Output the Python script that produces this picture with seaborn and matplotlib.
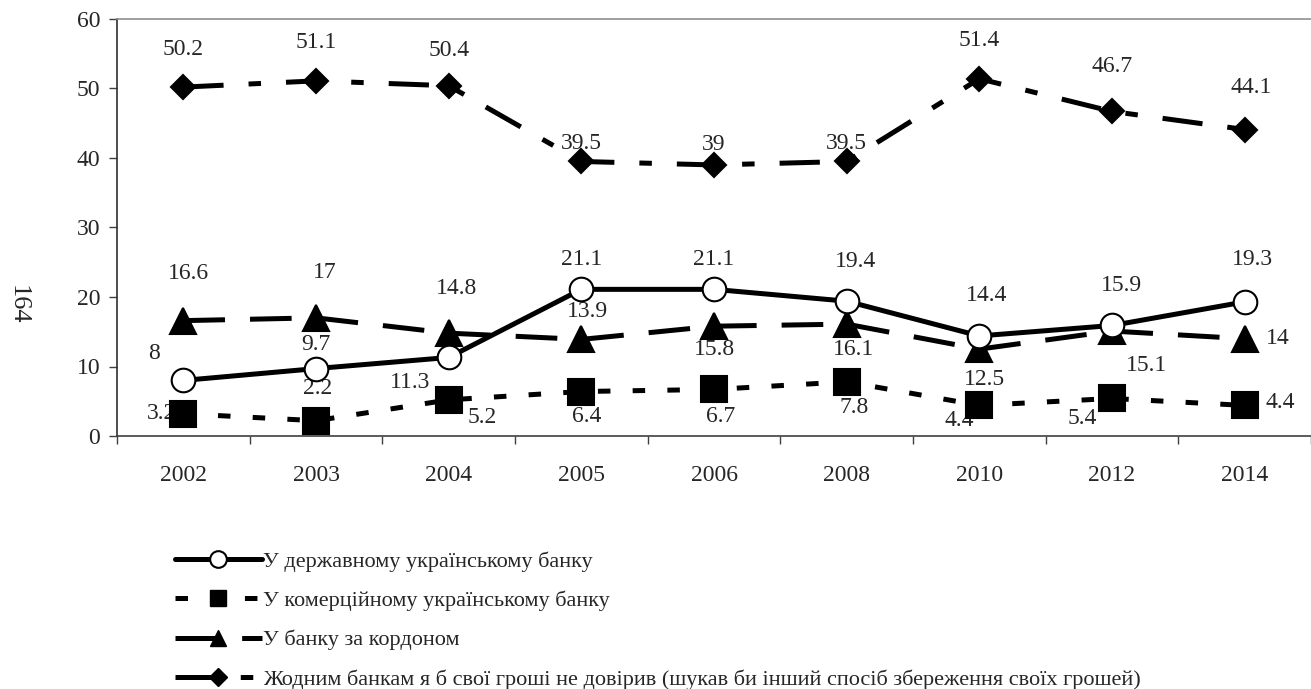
import pandas as pd
import matplotlib
matplotlib.use("Agg")
import matplotlib.pyplot as plt
from matplotlib.lines import Line2D
from matplotlib.ticker import FixedLocator
import seaborn as sns

# ---- data ----
years = ["2002", "2003", "2004", "2005", "2006", "2008", "2010", "2012", "2014"]
state_bank = [8, 9.7, 11.3, 21.1, 21.1, 19.4, 14.4, 15.9, 19.3]
commercial_bank = [3.2, 2.2, 5.2, 6.4, 6.7, 7.8, 4.4, 5.4, 4.4]
foreign_bank = [16.6, 17, 14.8, 13.9, 15.8, 16.1, 12.5, 15.1, 14]
no_bank = [50.2, 51.1, 50.4, 39.5, 39, 39.5, 51.4, 46.7, 44.1]

names = ["У державному українському банку",
         "У комерційному українському банку",
         "У банку за кордоном",
         "Жодним банкам я б свої гроші не довірив (шукав би інший спосіб збереження своїх грошей)"]

# label offsets (pixels) for each value label, as placed in the original
off_state = [(-29, 27), (0, 24), (-39, -25), (0, 30), (0, 30), (9, 40), (7, 40), (9, 40), (8, 42)]
off_comm = [(-22, 0), (2, 32), (34, -18), (5, -25), (7, -27), (7, -26), (-20, -15), (-30, -20), (36, 3)]
off_foreign = [(5, 47), (9, 45), (8, 45), (6, 28), (0, -23), (7, -25), (5, -30), (35, -34), (33, 0)]
off_none = [(0, 38), (0, 38), (0, 35), (0, 18), (0, 20), (0, 18), (0, 38), (0, 45), (7, 42)]

sns.set_style("white")
plt.rcParams["font.family"] = ["Liberation Serif", "DejaVu Serif"]
plt.rcParams["lines.scale_dashes"] = False

df = pd.DataFrame({"year": years, "s1": state_bank, "s2": commercial_bank,
                   "s3": foreign_bank, "s4": no_bank})

fig = plt.figure(figsize=(13.11, 6.89), dpi=100)
ax = fig.add_axes([117 / 1311, 1 - 436 / 689, 1 - 117 / 1311, (436 - 19) / 689])

styles = {
    "s1": dict(linestyle="-", marker="o", markersize=17, markerfacecolor="white"),
    "s2": dict(linestyle=(0, (9, 16)), marker="s", markersize=18.5, markerfacecolor="black"),
    "s3": dict(linestyle=(0, (30, 18)), marker="^", markersize=19, markerfacecolor="black"),
    "s4": dict(linestyle=(0, (29, 18, 9, 18)), marker="D", markersize=12, markerfacecolor="black"),
}
for key in ["s3", "s2", "s4", "s1"]:
    sns.lineplot(data=df, x="year", y=key, ax=ax, color="black", linewidth=3.6,
                 markeredgecolor="black", markeredgewidth=1.5, errorbar=None,
                 zorder=3, **styles[key])

# value labels
for vals, offs in [(state_bank, off_state), (commercial_bank, off_comm),
                   (foreign_bank, off_foreign), (no_bank, off_none)]:
    for i, (v, (dx, dy)) in enumerate(zip(vals, offs)):
        ax.annotate(f"{v:g}", (i, v), xytext=(dx, dy), textcoords="offset pixels",
                    ha="center", va="center", fontsize=17, zorder=2)

ax.set_xlim(-0.5, len(years) - 0.5)
ax.set_ylim(0, 60)
ax.set_yticks(range(0, 61, 10))
ax.set_xlabel("")
ax.set_ylabel("")
ax.xaxis.set_minor_locator(FixedLocator([i - 0.5 for i in range(len(years) + 1)]))
ax.tick_params(axis="x", which="major", length=0, pad=21, labelsize=17)
ax.tick_params(axis="x", which="minor", length=6, width=1, color="#404040", direction="out", bottom=True)
ax.tick_params(axis="y", length=6, width=1, color="#404040", direction="out", left=True, pad=6, labelsize=17)

ax.spines["right"].set_visible(False)
ax.spines["top"].set_color("#909090")
ax.spines["bottom"].set_color("#404040")
ax.spines["left"].set_color("#303030")
for s in ["top", "bottom", "left"]:
    ax.spines[s].set_linewidth(1.2)

fig.text(18 / 1311, 1 - 305 / 689, "164", rotation=-90, ha="center", va="center", fontsize=19)

# legend with smaller markers
handles = [
    Line2D([], [], color="black", linewidth=3.6, linestyle="-", marker="o", markersize=12,
           markerfacecolor="white", markeredgecolor="black", markeredgewidth=1.5),
    Line2D([], [], color="black", linewidth=3.6, linestyle=(0, (9, 16)), marker="s", markersize=11,
           markerfacecolor="black", markeredgecolor="black"),
    Line2D([], [], color="black", linewidth=3.6, linestyle=(0, (30, 18)), marker="^", markersize=12,
           markerfacecolor="black", markeredgecolor="black"),
    Line2D([], [], color="black", linewidth=3.6, linestyle=(0, (29, 18, 9, 18)), marker="D", markersize=9,
           markerfacecolor="black", markeredgecolor="black"),
]
fig.legend(handles, names, loc="upper left", bbox_to_anchor=(175 / 1311, 1 - 551 / 689),
           frameon=False, fontsize=16, handlelength=3.9, handletextpad=0.05,
           labelspacing=0.85, borderpad=0, borderaxespad=0, numpoints=1)

fig.savefig("out.png", dpi=100)
